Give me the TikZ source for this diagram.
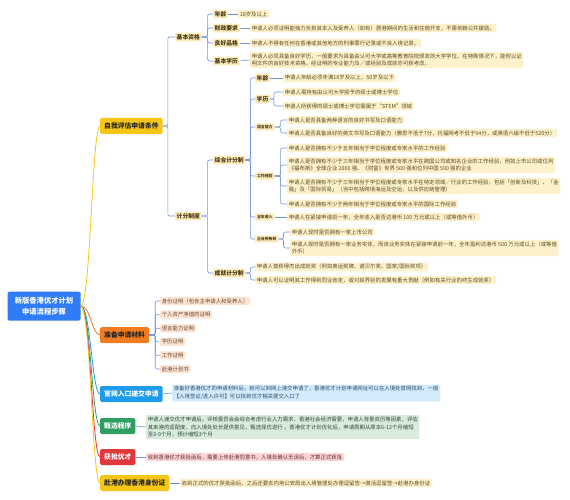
\documentclass[tikz,border=0pt]{standalone}
\usepackage{fontspec}
\setmainfont{Noto Sans CJK SC}
\usepackage{xcolor}
\usetikzlibrary{positioning,calc}
\definecolor{rootblue}{HTML}{2F7CF6}
\definecolor{ylw}{HTML}{F5C518}
\definecolor{org}{HTML}{F07C22}
\definecolor{sky}{HTML}{1E9BEA}
\definecolor{grn}{HTML}{2E9E62}
\definecolor{rd}{HTML}{E0383C}
\definecolor{brblue}{HTML}{6F93D8}
\definecolor{tagbg}{HTML}{FCEBBD}
\definecolor{tagtext}{HTML}{4A3A10}
\definecolor{leafbg}{HTML}{FDF1CC}
\definecolor{leaftext}{HTML}{5A4A20}
\definecolor{orbg}{HTML}{FCE4D4}
\definecolor{ortext}{HTML}{6A4A30}
\definecolor{skybg}{HTML}{D3EAFB}
\definecolor{skytext}{HTML}{2A4A6A}
\definecolor{grnbg}{HTML}{D8EBDD}
\definecolor{grntext}{HTML}{2E4A36}
\definecolor{rdbg}{HTML}{FAD6D8}
\definecolor{rdtext}{HTML}{6A2A2A}

\begin{document}
\begin{tikzpicture}[
  x=1pt, y=-1pt,
  rootbox/.style={fill=rootblue, text=white, rounded corners=1.5pt, align=center,
                  font=\fontsize{7.3}{10.5}\selectfont\bfseries, minimum width=73pt, minimum height=29pt},
  mainbox/.style={rounded corners=1.5pt, anchor=west, text=black!85,
                  font=\fontsize{6.8}{8}\selectfont\bfseries, minimum height=16pt, inner xsep=4pt},
  tagbox/.style={fill=tagbg, text=tagtext, rounded corners=1pt, anchor=west,
                 font=\fontsize{5.8}{7}\selectfont\bfseries, inner sep=1.5pt},
  subtag/.style={tagbox, font=\fontsize{3.9}{5}\selectfont\bfseries, inner sep=1.8pt},
  leafbox/.style={fill=leafbg, text=leaftext, rounded corners=1pt, anchor=west, align=left,
                  font=\fontsize{5.4}{7.8}\selectfont, inner sep=1.6pt},
  brline/.style={draw=brblue, line width=0.6pt, rounded corners=2pt},
  ln/.style={line width=0.8pt}
]
\useasboundingbox (0,0) rectangle (570,500);

\node[rootbox] (root) at (44,306) {新版香港优才计划\\申请流程步骤};

\node[mainbox, fill=ylw] (pg) at (100,126) {自我评估申请条件};
\node[mainbox, fill=org] (cl) at (100,335) {准备申请材料};
\node[mainbox, fill=sky, text=white] (dj) at (100,394) {官网入口递交申请};
\node[mainbox, fill=grn, text=white] (zx) at (100,426) {甄选程序};
\node[mainbox, fill=rd, text=white] (hp) at (100,457) {获批优才};
\node[mainbox, fill=ylw] (sf) at (100,483) {赴港办理香港身份证};

\draw[ln, ylw] (root.east) .. controls +(10,0) and +(-8,0) .. (pg.west);
\draw[ln, org] (root.east) .. controls +(10,0) and +(-8,0) .. (cl.west);
\draw[ln, sky] (root.east) .. controls +(10,0) and +(-8,0) .. (dj.west);
\draw[ln, grn] (root.east) .. controls +(10,0) and +(-8,0) .. (zx.west);
\draw[ln, rd] (root.east) .. controls +(10,0) and +(-8,0) .. (hp.west);
\draw[ln, ylw] (root.east) .. controls +(10,0) and +(-8,0) .. (sf.west);

\node[tagbox] (jb) at (175,37) {基本资格};
\node[tagbox] (jf) at (175,216) {计分制度};
\draw[brline] (pg.east) -- ++(5,0) |- (jb.west);
\draw[brline] (pg.east) -- ++(5,0) |- (jf.west);

\node[tagbox] (nl) at (213,14) {年龄};
\node[tagbox] (cz) at (213,28) {财政要求};
\node[tagbox] (pd) at (213,43) {良好品格};
\node[tagbox] (xl) at (213,61) {基本学历};
\draw[brline] (jb.east) -- ++(6,0) |- (nl.west);
\draw[brline] (jb.east) -- ++(6,0) |- (cz.west);
\draw[brline] (jb.east) -- ++(6,0) |- (pd.west);
\draw[brline] (jb.east) -- ++(6,0) |- (xl.west);

\node[leafbox] (nl1) at (238,14) {18岁及以上};
\node[leafbox] (cz1) at (250,28) {申请人必须证明能独力负担其本人及受养人（如有）居港期间的生活和住宿开支，不需依赖公共援助。};
\node[leafbox] (pd1) at (250,43) {申请人不得有任何在香港或其他地方的刑事罪行记录或不良入境记录。};
\node[leafbox] (xl1) at (250,60) {申请人必须具备良好学历，一般要求为具备由认可大学或高等教育院校颁发的大学学位。在特殊情况下，能附以证\\明文件的良好技术资格、经证明的专业能力及／或经验及成就亦可获考虑。};
\draw[brline] (nl.east) -- (nl1.west);
\draw[brline] (cz.east) -- (cz1.west);
\draw[brline] (pd.east) -- (pd1.west);
\draw[brline] (xl.east) -- (xl1.west);

\node[tagbox] (zh) at (213,160) {综合计分制};
\node[tagbox] (cj) at (213,273) {成就计分制};
\draw[brline] (jf.east) -- ++(6,0) |- (zh.west);
\draw[brline] (jf.east) -- ++(6,0) |- (cj.west);

\node[tagbox] (nl2) at (255,78) {年龄};
\node[tagbox] (xl2) at (255,99) {学历};
\node[subtag] (yy) at (255,127) {语言能力};
\node[subtag] (gz) at (255,176) {工作经验};
\node[subtag] (sr) at (255,217) {全年收入};
\node[subtag] (qy) at (255,239) {企业所有权};
\foreach \n in {nl2,xl2,yy,gz,sr,qy}
  \draw[brline] (zh.east) -- ++(5,0) |- (\n.west);

\node[leafbox] (nl3) at (283,78) {申请人年龄必须年满18岁及以上，50岁及以下};
\draw[brline] (nl2.east) -- (nl3.west);

\node[leafbox] (xla) at (283,92) {申请人需持有由认可大学授予的硕士或博士学位};
\node[leafbox] (xlb) at (283,106) {申请人所获得的硕士或博士学位需属于“STEM”领域};
\draw[brline] (xl2.east) -- ++(4,0) |- (xla.west);
\draw[brline] (xl2.east) -- ++(4,0) |- (xlb.west);

\node[leafbox] (yya) at (287,120) {申请人是否具备两种语言的良好书写及口语能力};
\node[leafbox] (yyb) at (287,133) {申请人是否具备良好的英文书写及口语能力（雅思不低于7分，托福网考不低于94分，或英语六级不低于520分）};
\draw[brline] (yy.east) -- ++(6,0) |- (yya.west);
\draw[brline] (yy.east) -- ++(6,0) |- (yyb.west);

\node[leafbox] (gza) at (287,148) {申请人是否拥有不少于五年相当于学位程度或专家水平的工作经验};
\node[leafbox] (gzb) at (287,165) {申请人是否拥有不少于三年相当于学位程度或专家水平在跨国公司或知名企业的工作经验，例如上市公司或位列\\《福布斯》全球企业 2000 强、《财富》世界 500 强和位列中国 500 强的企业};
\node[leafbox] (gzc) at (287,186) {申请人是否拥有不少于三年相当于学位程度或专家水平在特定领域／行业的工作经验，包括「创新及科技」、「金\\融」及「国际贸易」（当中包括跨境海运及空运，以及供应链管理）};
\node[leafbox] (gzd) at (287,204) {申请人是否拥有不少于两年相当于学位程度或专家水平的国际工作经验};
\foreach \n in {gza,gzb,gzc,gzd}
  \draw[brline] (gz.east) -- ++(6,0) |- (\n.west);

\node[leafbox] (sra) at (287,217) {申请人在紧接申请前一年，全年收入是否达港币 100 万元或以上（或等值外币）};
\draw[brline] (sr.east) -- (sra.west);

\node[leafbox] (qya) at (290,232) {申请人现时是否拥有一家上市公司};
\node[leafbox] (qyb) at (290,248) {申请人现时是否拥有一家业务实体，而该业务实体在紧接申请前一年，全年盈利达港币 500 万元或以上（或等值\\外币）};
\draw[brline] (qy.east) -- ++(5,0) |- (qya.west);
\draw[brline] (qy.east) -- ++(5,0) |- (qyb.west);

\node[leafbox] (cja) at (255,267) {申请人曾获得杰出成就奖（例如奥运奖牌、诺贝尔奖、国家/国际奖项）};
\node[leafbox] (cjb) at (255,280) {申请人可以证明其工作得到同业肯定，或对其界别的发展有重大贡献（例如有关行业的终生成就奖）};
\draw[brline] (cj.east) -- ++(5,0) |- (cja.west);
\draw[brline] (cj.east) -- ++(5,0) |- (cjb.west);

\foreach \t [count=\i] in {身份证明（包含主申请人和受养人）, 个人资产净值的证明, 语言能力证明, 学历证明, 工作证明, 赴港计划书} {
  \node[leafbox, fill=orbg, text=ortext] (m\i) at (160,287.4+13.6*\i) {\t};
  \draw[brline] (cl.east) -- ++(6,0) |- (m\i.west);
}

\node[leafbox, fill=skybg, text=skytext] (dja) at (172,393) {准备好香港优才的申请材料后，就可以到网上递交申请了，香港优才计划申请网址可以在入境处官网找到，一般\\【入境签证/进入许可】可以找到优才相关提交入口了};
\draw[brline] (dj.east) -- (dja.west);

\node[leafbox, fill=grnbg, text=grntext] (zxa) at (146,427) {申请人递交优才申请后，评核委员会会综合考虑行业人力需求，香港社会经济需要，申请人背景资历等因素，评估\\其来港的适配度，向入境处处长提供意见，甄选择优进行 。香港优才计划优化后，申请周期从原本6-12个月缩短\\至3-9个月，预计缩短3个月};
\draw[brline] (zx.east) -- (zxa.west);

\node[leafbox, fill=rdbg, text=rdtext] (hpa) at (146,457) {收到香港优才获批函后，需要上传赴港同意书，入境处确认无误后，才算正式获批};
\draw[brline] (hp.east) -- (hpa.west);

\node[leafbox] (sfa) at (180,483) {收到正式的优才获批函后，之后还要去内地公安局出入境管理处办理逗留签→激活逗留签→赴港办身份证};
\draw[brline] (sf.east) -- (sfa.west);
\end{tikzpicture}
\end{document}
